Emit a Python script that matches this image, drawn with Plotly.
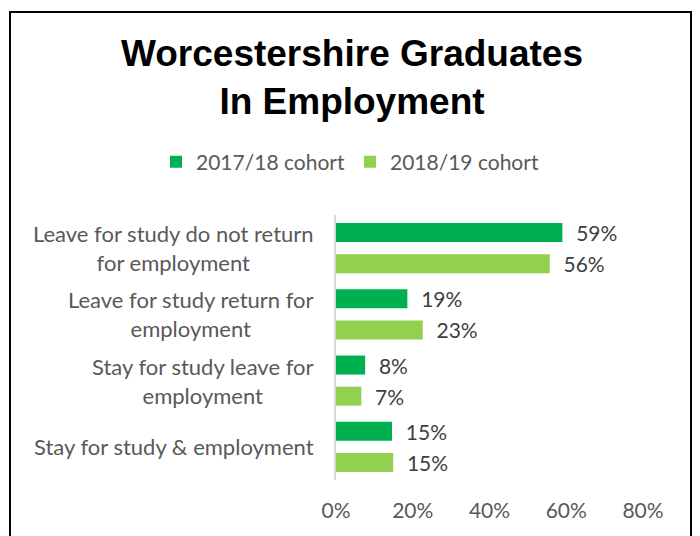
import plotly.graph_objects as go

categories = [
    "Leave for study do not return<br>for employment",
    "Leave for study return for<br>employment",
    "Stay for study leave for<br>employment",
    "Stay for study & employment",
]
series_names = ["2017/18 cohort", "2018/19 cohort"]
values_2017 = [0.59, 0.186, 0.076, 0.146]
values_2018 = [0.557, 0.226, 0.066, 0.149]
colors = ["#00B050", "#92D050"]
x_ticks = [0, 0.2, 0.4, 0.6, 0.8]
x_tick_labels = ["0%", "20%", "40%", "60%", "80%"]

W, H = 700, 536
L, R, T, B = 336, 57, 215, 56
PW = W - L - R
PH = H - T - B


def px_x(p):
    return (p - L) / PW


def px_y(p):
    return (H - B - p) / PH


FONT = "Lato"
GREY = "#595959"

fig = go.Figure()
for name, vals, col in zip(series_names, [values_2017, values_2018], colors):
    fig.add_trace(go.Bar(
        y=categories, x=vals, name=name, orientation="h",
        marker=dict(color=col, line=dict(width=0)),
        texttemplate="\u00a0\u00a0%{x:.0%}", textposition="outside",
        constraintext="none",
        textfont=dict(family=FONT, size=21, color="#404040"),
        cliponaxis=False,
    ))

annotations = [
    dict(x=px_x(316), y=cat, xref="paper", yref="y", text=cat,
         xanchor="right", yanchor="middle", align="center", showarrow=False,
         font=dict(family=FONT, size=22, color=GREY))
    for cat in categories
]

fig.update_layout(
    width=W, height=H,
    margin=dict(l=L, r=R, t=T, b=B, autoexpand=False),
    paper_bgcolor="white", plot_bgcolor="white",
    barmode="group", bargap=0.06, bargroupgap=0.39,
    title=dict(text="<b>Worcestershire Graduates<br>In Employment</b>",
               x=352 / W, xref="container", xanchor="center",
               y=(H - 66) / H, yref="container", yanchor="top",
               font=dict(family="Liberation Sans", size=37, color="black")),
    legend=dict(orientation="h", xref="paper", x=px_x(156), xanchor="left",
                yref="paper", y=px_y(162), yanchor="middle",
                font=dict(family=FONT, size=21, color=GREY), traceorder="normal",
                itemclick=False),
    xaxis=dict(range=[0, 0.8], tickvals=x_ticks, ticktext=x_tick_labels, showgrid=False,
               zeroline=False, showline=False, ticks="", ticklabelstandoff=16,
               tickfont=dict(family=FONT, size=21, color=GREY)),
    yaxis=dict(autorange="reversed", showticklabels=False, showline=True,
               linecolor="#D9D9D9", linewidth=2, ticks="", showgrid=False),
    annotations=annotations,
    shapes=[dict(type="rect", xref="paper", yref="paper",
                 x0=px_x(10), x1=px_x(691), y0=px_y(560), y1=px_y(12),
                 line=dict(color="black", width=2), fillcolor="rgba(0,0,0,0)")],
)

fig.write_html("out.html", config={"displayModeBar": False},
               post_script="document.body.style.margin='0px';")
